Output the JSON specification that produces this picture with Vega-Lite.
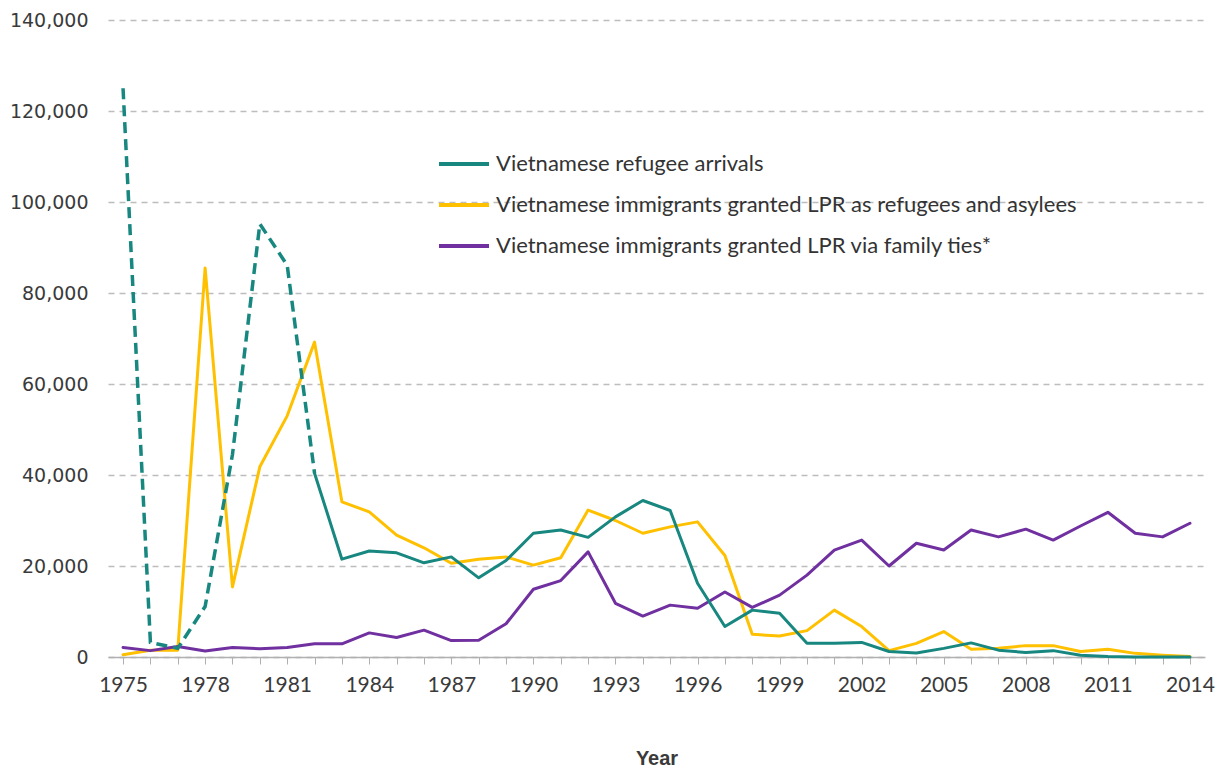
{
  "$schema": "https://vega.github.io/schema/vega-lite/v6.json",
  "width": 1097,
  "height": 637,
  "autosize": "none",
  "padding": {"left": 108, "top": 20, "right": 21, "bottom": 110},
  "background": "white",
  "config": {
    "view": {"stroke": null},
    "axis": {"labelColor": "#3a3a3a", "titleColor": "#3a3a3a"}
  },
  "data": {
    "values": [
      {"year": 1975, "refugee": 125000, "lpr": 500, "family": 2100},
      {"year": 1976, "refugee": 3200, "lpr": 1500, "family": 1400},
      {"year": 1977, "refugee": 1900, "lpr": 1500, "family": 2300},
      {"year": 1978, "refugee": 11100, "lpr": 85500, "family": 1300},
      {"year": 1979, "refugee": 44500, "lpr": 15400, "family": 2100},
      {"year": 1980, "refugee": 95200, "lpr": 41800, "family": 1800},
      {"year": 1981, "refugee": 86100, "lpr": 53000, "family": 2100},
      {"year": 1982, "refugee": 40400, "lpr": 69200, "family": 2900},
      {"year": 1983, "refugee": 21500, "lpr": 34100, "family": 2900},
      {"year": 1984, "refugee": 23300, "lpr": 31900, "family": 5300},
      {"year": 1985, "refugee": 22900, "lpr": 26800, "family": 4300},
      {"year": 1986, "refugee": 20700, "lpr": 24000, "family": 5900},
      {"year": 1987, "refugee": 22000, "lpr": 20600, "family": 3600},
      {"year": 1988, "refugee": 17400, "lpr": 21500, "family": 3700},
      {"year": 1989, "refugee": 21200, "lpr": 22000, "family": 7300},
      {"year": 1990, "refugee": 27200, "lpr": 20200, "family": 14900},
      {"year": 1991, "refugee": 27900, "lpr": 21800, "family": 16800},
      {"year": 1992, "refugee": 26300, "lpr": 32300, "family": 23100},
      {"year": 1993, "refugee": 30800, "lpr": 30000, "family": 11800},
      {"year": 1994, "refugee": 34400, "lpr": 27200, "family": 9000},
      {"year": 1995, "refugee": 32200, "lpr": 28600, "family": 11400},
      {"year": 1996, "refugee": 16200, "lpr": 29700, "family": 10700},
      {"year": 1997, "refugee": 6700, "lpr": 22300, "family": 14300},
      {"year": 1998, "refugee": 10300, "lpr": 5000, "family": 10900},
      {"year": 1999, "refugee": 9600, "lpr": 4600, "family": 13600},
      {"year": 2000, "refugee": 3000, "lpr": 5800, "family": 18000},
      {"year": 2001, "refugee": 3000, "lpr": 10300, "family": 23500},
      {"year": 2002, "refugee": 3200, "lpr": 6700, "family": 25700},
      {"year": 2003, "refugee": 1200, "lpr": 1400, "family": 20000},
      {"year": 2004, "refugee": 900, "lpr": 3000, "family": 25000},
      {"year": 2005, "refugee": 1900, "lpr": 5600, "family": 23500},
      {"year": 2006, "refugee": 3100, "lpr": 1700, "family": 27900},
      {"year": 2007, "refugee": 1500, "lpr": 1900, "family": 26400},
      {"year": 2008, "refugee": 1000, "lpr": 2500, "family": 28100},
      {"year": 2009, "refugee": 1400, "lpr": 2500, "family": 25700},
      {"year": 2010, "refugee": 400, "lpr": 1200, "family": 28800},
      {"year": 2011, "refugee": 100, "lpr": 1700, "family": 31800},
      {"year": 2012, "refugee": 0, "lpr": 800, "family": 27200},
      {"year": 2013, "refugee": 0, "lpr": 400, "family": 26400},
      {"year": 2014, "refugee": 0, "lpr": 100, "family": 29400}
    ]
  },
  "transform": [
    {"fold": ["refugee", "lpr", "family"], "as": ["series", "value"]}
  ],
  "encoding": {
    "x": {
      "field": "year",
      "type": "quantitative",
      "scale": {"domain": [1974.45, 2014.55], "nice": false, "zero": false},
      "axis": {
        "values": [1975,1976,1977,1978,1979,1980,1981,1982,1983,1984,1985,1986,1987,1988,1989,1990,1991,1992,1993,1994,1995,1996,1997,1998,1999,2000,2001,2002,2003,2004,2005,2006,2007,2008,2009,2010,2011,2012,2013,2014],
        "format": "d",
        "labelExpr": "(datum.value - 1975) % 3 == 0 ? datum.label : ''",
        "labelFont": "Lato",
        "labelFontSize": 21,
        "labelPadding": 10,
        "labelOverlap": false,
        "grid": false,
        "domainColor": "#b0b0b0",
        "domainWidth": 1.5,
        "tickColor": "#b0b0b0",
        "tickSize": 7,
        "title": "Year",
        "titleFont": "Liberation Sans",
        "titleFontWeight": "bold",
        "titleFontSize": 20,
        "titlePadding": 53
      }
    },
    "y": {
      "field": "value",
      "type": "quantitative",
      "scale": {"domain": [0, 140000], "nice": false},
      "axis": {
        "values": [0, 20000, 40000, 60000, 80000, 100000, 120000, 140000],
        "format": ",d",
        "title": null,
        "domain": false,
        "ticks": false,
        "labelFont": "DejaVu Sans",
        "labelFontSize": 19,
        "labelPadding": 20,
        "gridColor": "#bdbdbd",
        "gridDash": [6, 5],
        "gridWidth": 1.3
      }
    }
  },
  "layer": [
    {
      "transform": [{"filter": "!(datum.series == 'refugee' && datum.year < 1982)"}],
      "mark": {"type": "line", "strokeWidth": 3, "strokeCap": "round", "strokeJoin": "round"},
      "encoding": {
        "color": {
          "field": "series",
          "type": "nominal",
          "scale": {"domain": ["refugee", "lpr", "family"], "range": ["#17877f", "#ffc000", "#7030a0"]},
          "legend": {
            "orient": "none",
            "legendX": 329,
            "legendY": 117,
            "title": null,
            "padding": 0,
            "symbolType": "stroke",
            "symbolSize": 2500,
            "symbolStrokeWidth": 4,
            "labelFont": "Lato",
            "labelFontSize": 22,
            "labelColor": "#333333",
            "labelLimit": 0,
            "labelOffset": 5,
            "rowPadding": 3,
            "labelExpr": "datum.value == 'refugee' ? 'Vietnamese refugee arrivals' : datum.value == 'lpr' ? 'Vietnamese immigrants granted LPR as refugees and asylees' : 'Vietnamese immigrants granted LPR via family ties*'"
          }
        }
      }
    },
    {
      "transform": [{"filter": "datum.series == 'refugee' && datum.year <= 1982"}],
      "mark": {"type": "line", "strokeWidth": 3.5, "color": "#17877f", "strokeDash": [11, 6]},
      "encoding": {}
    }
  ]
}
